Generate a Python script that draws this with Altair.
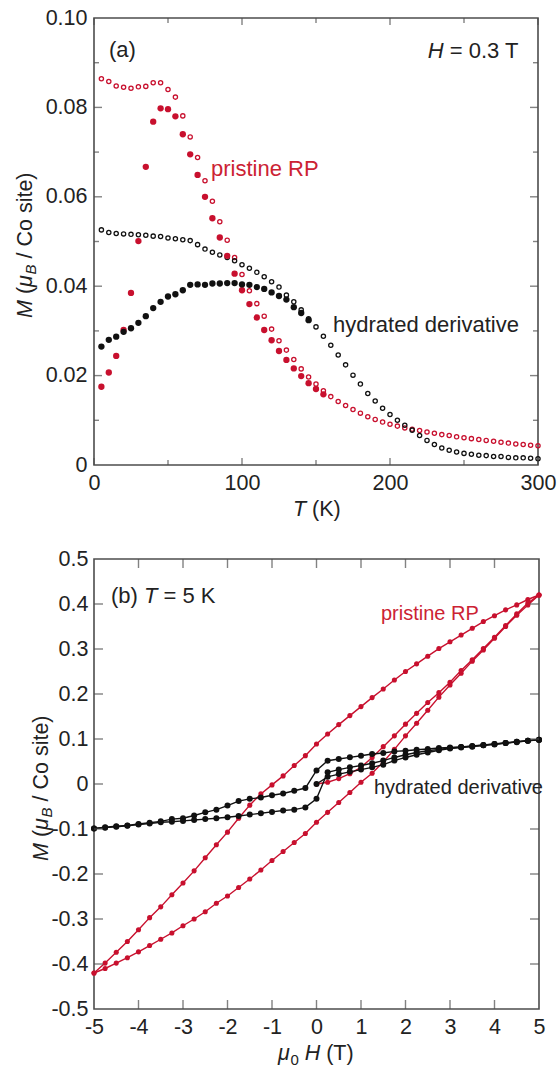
import altair as alt
import pandas as pd

FONT = "Liberation Sans"
RED = "#c8102e"
RED_TXT = "#cc2233"
BLACK = "#111111"
FRAME = "#4d4d4d"
TXT = "#222222"

# ---------------- panel (a): M vs T ----------------
T_FC = [5, 10, 15, 20, 25, 30, 35, 40, 45, 50, 55, 60, 65, 70, 75, 80, 85, 90, 95, 100,
        105, 110, 115, 120, 125, 130, 135, 140, 145, 150, 155, 160, 165, 170, 175, 180, 185, 190, 195, 200,
        205, 210, 215, 220, 225, 230, 235, 240, 245, 250, 255, 260, 265, 270, 275, 280, 285, 290, 295, 300]
M_PRISTINE_FC = [0.0864, 0.0858, 0.0848, 0.0845, 0.0843, 0.0846, 0.0847, 0.0855, 0.0855, 0.0840,
                 0.0823, 0.0781, 0.0734, 0.0688, 0.0636, 0.0590, 0.0544, 0.0503, 0.0464, 0.0426,
                 0.0390, 0.0361, 0.0333, 0.0304, 0.0278, 0.0257, 0.0236, 0.0215, 0.0197, 0.0181,
                 0.0166, 0.0153, 0.0142, 0.0133, 0.0124, 0.0116, 0.0108, 0.0102, 0.0096, 0.0091,
                 0.0087, 0.0083, 0.0080, 0.0077, 0.0074, 0.0071, 0.0068, 0.0066, 0.0063, 0.0061,
                 0.0059, 0.0057, 0.0055, 0.0053, 0.0051, 0.0049, 0.0047, 0.0046, 0.0044, 0.0043]
M_HYDRATED_FC = [0.0526, 0.0520, 0.0518, 0.0517, 0.0516, 0.0515, 0.0514, 0.0512, 0.0511, 0.0508,
                 0.0506, 0.0504, 0.0502, 0.0493, 0.0483, 0.0476, 0.0470, 0.0464, 0.0457, 0.0448,
                 0.0440, 0.0431, 0.0421, 0.0410, 0.0398, 0.0380, 0.0365, 0.0347, 0.0327, 0.0309,
                 0.0288, 0.0268, 0.0246, 0.0224, 0.0201, 0.0181, 0.0160, 0.0143, 0.0127, 0.0113,
                 0.0100, 0.0089, 0.0078, 0.0066, 0.0055, 0.0046, 0.0038, 0.0033, 0.0029, 0.0026,
                 0.0024, 0.0022, 0.0021, 0.0019, 0.0019, 0.0017, 0.0016, 0.0016, 0.0015, 0.0014]
T_ZFC_PRISTINE = T_FC[:31]
M_PRISTINE_ZFC = [0.0175, 0.0207, 0.0244, 0.0302, 0.0385, 0.0501, 0.0667, 0.0768, 0.0798, 0.0796,
                  0.0780, 0.0740, 0.0695, 0.0649, 0.0600, 0.0552, 0.0509, 0.0468, 0.0428, 0.0391,
                  0.0360, 0.0330, 0.0302, 0.0279, 0.0255, 0.0235, 0.0216, 0.0199, 0.0183, 0.0170,
                  0.0158]
T_ZFC_HYDRATED = T_FC[:29]
M_HYDRATED_ZFC = [0.0265, 0.0280, 0.0287, 0.0298, 0.0306, 0.0318, 0.0333, 0.0351, 0.0365, 0.0377,
                  0.0382, 0.0391, 0.0403, 0.0404, 0.0403, 0.0406, 0.0406, 0.0407, 0.0407, 0.0404,
                  0.0403, 0.0398, 0.0394, 0.0386, 0.0378, 0.0370, 0.0353, 0.0340, 0.0324]

A_X_LABELS = [0, 100, 200, 300]
A_X_MINOR = [50, 150, 250]
A_Y_LABELS = [0, 0.02, 0.04, 0.06, 0.08, 0.10]
A_Y_MINOR = [0.01, 0.03, 0.05, 0.07, 0.09]

# ---------------- panel (b): M vs mu0 H ----------------
H_UP = [-5, -4.75, -4.5, -4.25, -4, -3.75, -3.5, -3.25, -3, -2.75, -2.5, -2.25, -2, -1.75, -1.5, -1.25,
        -1, -0.75, -0.5, -0.25, 0, 0.25, 0.5, 0.75, 1, 1.25, 1.5, 1.75, 2, 2.25, 2.5, 2.75, 3, 3.25,
        3.5, 3.75, 4, 4.25, 4.5, 4.75, 5]
H_DOWN = H_UP[::-1]
H_VIRGIN = H_UP[20:]

M_RED_DOWN = [0.420, 0.410, 0.398, 0.387, 0.374, 0.361, 0.346, 0.331, 0.316, 0.301, 0.284, 0.267, 0.250,
              0.231, 0.211, 0.192, 0.172, 0.152, 0.132, 0.111, 0.089, 0.063, 0.041, 0.018, -0.002,
              -0.022, -0.047, -0.076, -0.107, -0.135, -0.164, -0.193, -0.220, -0.246, -0.273, -0.297,
              -0.324, -0.350, -0.374, -0.398, -0.420]
M_RED_UP = [-0.420, -0.410, -0.398, -0.386, -0.373, -0.359, -0.345, -0.331, -0.315, -0.300, -0.284,
            -0.265, -0.249, -0.230, -0.211, -0.191, -0.170, -0.150, -0.130, -0.110, -0.085, -0.063,
            -0.041, -0.019, 0.004, 0.024, 0.049, 0.077, 0.107, 0.135, 0.164, 0.193, 0.220, 0.246,
            0.273, 0.298, 0.324, 0.350, 0.375, 0.398, 0.420]
M_RED_VIRGIN = [0.000, 0.004, 0.012, 0.023, 0.037, 0.059, 0.083, 0.107, 0.133, 0.157, 0.181, 0.203,
                0.226, 0.252, 0.276, 0.301, 0.326, 0.352, 0.378, 0.402, 0.420]

M_BLK_DOWN = [0.0985, 0.0963, 0.0941, 0.0911, 0.0889, 0.0867, 0.0845, 0.0825, 0.0810, 0.0799, 0.0777,
              0.0762, 0.0740, 0.0725, 0.0688, 0.0666, 0.0629, 0.0592, 0.0555, 0.0518, 0.030, -0.009,
              -0.015, -0.021, -0.025, -0.030, -0.033, -0.038, -0.048, -0.057, -0.063, -0.070, -0.076,
              -0.078, -0.083, -0.086, -0.089, -0.092, -0.094, -0.096, -0.099]
M_BLK_UP = [-0.099, -0.097, -0.095, -0.093, -0.090, -0.088, -0.085, -0.084, -0.082, -0.080, -0.078,
            -0.076, -0.074, -0.071, -0.068, -0.065, -0.062, -0.059, -0.057, -0.052, -0.033, 0.026,
            0.032, 0.037, 0.041, 0.046, 0.052, 0.059, 0.065, 0.070, 0.074, 0.077, 0.080, 0.082, 0.084,
            0.086, 0.089, 0.091, 0.094, 0.096, 0.0985]
M_BLK_VIRGIN = [0.000, 0.016, 0.022, 0.027, 0.032, 0.037, 0.043, 0.052, 0.059, 0.065, 0.070, 0.075,
                0.079, 0.081, 0.083, 0.086, 0.088, 0.091, 0.093, 0.096, 0.098]

B_X_LABELS = [-5, -4, -3, -2, -1, 0, 1, 2, 3, 4, 5]
B_Y_LABELS = [-0.5, -0.4, -0.3, -0.2, -0.1, 0, 0.1, 0.2, 0.3, 0.4, 0.5]

TXT_A_LABEL = "(a)"
TXT_B_LABEL = "(b)"
TXT_PRISTINE = "pristine RP"
TXT_HYDRATED = "hydrated derivative"

# ---------------- helpers ----------------
WA, HA = 444, 447
WB, HB = 445, 450
LBL = 21.5


def ticks(vals, ch, scale, axis, length, W, H):
    base = alt.Chart(pd.DataFrame({"v": vals}))
    kw = dict(color=FRAME, thickness=1.4, size=length)
    if ch == "x":
        enc = alt.X("v:Q", scale=scale, axis=axis)
        return [
            base.mark_tick(orient="vertical", yOffset=-length / 2, **kw).encode(x=enc, y=alt.value(H)),
            base.mark_tick(orient="vertical", yOffset=length / 2, **kw).encode(x=enc, y=alt.value(0)),
        ]
    enc = alt.Y("v:Q", scale=scale, axis=axis)
    return [
        base.mark_tick(orient="horizontal", xOffset=length / 2, **kw).encode(y=enc, x=alt.value(0)),
        base.mark_tick(orient="horizontal", xOffset=-length / 2, **kw).encode(y=enc, x=alt.value(W)),
    ]


def txt(s, x, y, size=22, color=TXT, italic=False, angle=None, align="left"):
    kw = dict(font=FONT, fontSize=size, color=color, align=align, baseline="alphabetic")
    if italic:
        kw["fontStyle"] = "italic"
    if angle is not None:
        kw["angle"] = angle
    return alt.Chart(pd.DataFrame({"t": [s]})).mark_text(**kw).encode(
        text="t:N", x=alt.value(x), y=alt.value(y))


def ytitle(bx, sy, f=21.5):
    return [
        txt("M", bx, sy, f, italic=True, angle=270),
        txt("(", bx, sy - 23.9, f, angle=270),
        txt("\u03bc", bx, sy - 31.1, f, italic=True, angle=270),
        txt("B", bx + 4, sy - 43.5, 15, italic=True, angle=270),
        txt("/ Co site)", bx, sy - 59.5, f, angle=270),
    ]


# ---------------- panel (a) ----------------
xa = alt.Scale(domain=[0, 300], nice=False, zero=False)
ya = alt.Scale(domain=[0, 0.1], nice=False, zero=False)

xa_axis = alt.Axis(values=A_X_LABELS, format="d", title=None, labelFlush=False, labelPadding=7,
                   ticks=False, tickSize=0, domain=False, grid=False)
ya_axis = alt.Axis(values=A_Y_LABELS, title=None, labelPadding=7, ticks=False, tickSize=0,
                   domain=False, grid=False,
                   labelExpr="datum.value == 0 ? '0' : format(datum.value, '.2f')")

df_open = pd.concat([
    pd.DataFrame({"T": T_FC, "M": M_PRISTINE_FC, "s": "pristine"}),
    pd.DataFrame({"T": T_FC, "M": M_HYDRATED_FC, "s": "hydrated"}),
])
df_fill = pd.concat([
    pd.DataFrame({"T": T_ZFC_PRISTINE, "M": M_PRISTINE_ZFC, "s": "pristine"}),
    pd.DataFrame({"T": T_ZFC_HYDRATED, "M": M_HYDRATED_ZFC, "s": "hydrated"}),
])
col = alt.Color("s:N", scale=alt.Scale(domain=["pristine", "hydrated"], range=[RED, BLACK]), legend=None)

open_pts = alt.Chart(df_open).mark_point(shape="circle", filled=False, size=18, strokeWidth=1.3, opacity=1).encode(
    x=alt.X("T:Q", scale=xa, axis=xa_axis), y=alt.Y("M:Q", scale=ya, axis=ya_axis), color=col)
fill_pts = alt.Chart(df_fill).mark_circle(size=40, opacity=1).encode(
    x=alt.X("T:Q", scale=xa, axis=xa_axis), y=alt.Y("M:Q", scale=ya, axis=ya_axis), color=col)

layers_a = [open_pts, fill_pts]
layers_a += ticks(A_X_LABELS, "x", xa, xa_axis, 7, WA, HA)
layers_a += ticks(A_X_MINOR, "x", xa, xa_axis, 5, WA, HA)
layers_a += ticks(A_Y_LABELS[1:-1], "y", ya, ya_axis, 8, WA, HA)
layers_a += ticks(A_Y_MINOR, "y", ya, ya_axis, 5, WA, HA)
layers_a += [
    txt(TXT_A_LABEL, 15, 38.5, 22),
    txt("H", 333.7, 39.7, 22, italic=True),
    txt("= 0.3 T", 355.7, 39.7, 22),
    txt(TXT_PRISTINE, 117, 158, 22, color=RED_TXT),
    txt(TXT_HYDRATED, 239, 314, 22),
    txt("T", 199, 498, LBL, italic=True),
    txt("(K)", 218, 498, LBL),
]
layers_a += ytitle(-62, 300)

panel_a = alt.layer(*layers_a).properties(width=WA, height=HA)

# ---------------- panel (b) ----------------
xb = alt.Scale(domain=[-5, 5], nice=False, zero=False)
yb = alt.Scale(domain=[-0.5, 0.5], nice=False, zero=False)

xb_axis = alt.Axis(values=B_X_LABELS, title=None, labelFlush=False, labelPadding=7, ticks=False, tickSize=0,
                   domain=False, grid=False,
                   labelExpr="datum.value < 0 ? '-' + format(-datum.value, 'd') : format(datum.value, 'd')")
yb_axis = alt.Axis(values=B_Y_LABELS, title=None, labelPadding=6, ticks=False, tickSize=0, domain=False,
                   grid=False,
                   labelExpr="datum.value == 0 ? '0' : (datum.value < 0 ? '-' + format(-datum.value, '.1f') : format(datum.value, '.1f'))")


def branches(hm_list):
    frames = []
    for name, hs, ms in hm_list:
        frames.append(pd.DataFrame({"H": hs, "M": ms, "b": name, "i": list(range(len(hs)))}))
    return pd.concat(frames)


df_red = branches([("down", H_DOWN, M_RED_DOWN), ("up", H_UP, M_RED_UP), ("virgin", H_VIRGIN, M_RED_VIRGIN)])
df_blk = branches([("down", H_DOWN, M_BLK_DOWN), ("up", H_UP, M_BLK_UP), ("virgin", H_VIRGIN, M_BLK_VIRGIN)])

XB = alt.X("H:Q", scale=xb, axis=xb_axis)
YB = alt.Y("M:Q", scale=yb, axis=yb_axis)

red_line = alt.Chart(df_red).mark_line(color=RED, strokeWidth=1.4).encode(
    x=XB, y=YB, detail="b:N", order="i:Q")
red_pts = alt.Chart(df_red).mark_circle(color=RED, size=26, opacity=1).encode(x=XB, y=YB)
blk_line = alt.Chart(df_blk).mark_line(color=BLACK, strokeWidth=1.4).encode(
    x=XB, y=YB, detail="b:N", order="i:Q")
blk_pts = alt.Chart(df_blk).mark_circle(color=BLACK, size=36, opacity=1).encode(x=XB, y=YB)

layers_b = [red_line, red_pts, blk_line, blk_pts]
layers_b += ticks(B_X_LABELS[1:-1], "x", xb, xb_axis, 9, WB, HB)
layers_b += ticks(B_Y_LABELS[1:-1], "y", yb, yb_axis, 9, WB, HB)
layers_b += [
    txt(TXT_B_LABEL, 17, 43.5, 22),
    txt("T", 50, 43.5, 22, italic=True),
    txt("= 5 K", 69.5, 43.5, 22),
    txt(TXT_PRISTINE, 287, 61, 20, color=RED_TXT),
    txt(TXT_HYDRATED, 280, 235, 20),
    txt("\u03bc", 184, 501, LBL, italic=True),
    txt("0", 196.4, 506, 15),
    txt("H", 210.7, 501, LBL, italic=True),
    txt("(T)", 232.2, 501, LBL),
]
layers_b += ytitle(-46.3, 302)

panel_b = alt.layer(*layers_b).properties(width=WB, height=HB)

chart = alt.vconcat(panel_a, panel_b, spacing=94, bounds="flush").properties(
    padding={"left": 14, "top": 6, "right": 0, "bottom": 0}
).configure_view(stroke=FRAME, strokeWidth=1.6).configure_axis(
    labelFont=FONT, labelFontSize=LBL, labelColor=TXT
)

chart.save("out.html", embed_options={"renderer": "svg", "actions": False})
